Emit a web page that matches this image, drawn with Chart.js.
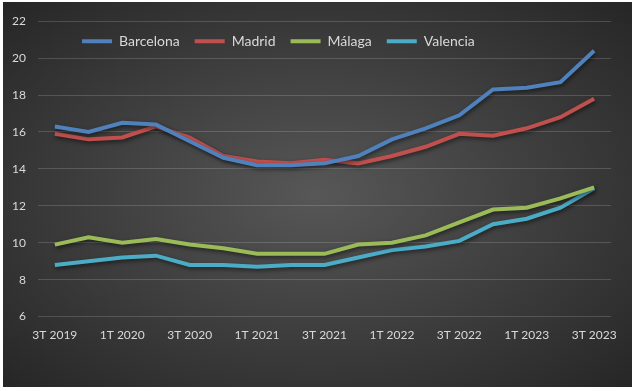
<!DOCTYPE html>
<html>
<head>
<meta charset="utf-8">
<script src="https://cdn.jsdelivr.net/npm/chart.js@4"></script>
<style>
  body { margin: 0; background: #fff; }
  #wrap {
    position: absolute; left: 3px; top: 2px; width: 629px; height: 385px;
    background: radial-gradient(ellipse at 50% 50%, #575757 0%, #3c3c3c 55%, #262626 100%);
  }
</style>
</head>
<body>
<div id="wrap"><canvas id="priceChart" width="629" height="385"></canvas></div>
<script>
// trimestres
var labels = ['3T 2019', '4T 2019', '1T 2020', '2T 2020', '3T 2020', '4T 2020', '1T 2021', '2T 2021',
              '3T 2021', '4T 2021', '1T 2022', '2T 2022', '3T 2022', '4T 2022', '1T 2023', '2T 2023', '3T 2023'];

var barcelona = [16.3, 16.0, 16.5, 16.4, 15.5, 14.6, 14.2, 14.2, 14.3, 14.7, 15.6, 16.2, 16.9, 18.3, 18.4, 18.7, 20.4];
var madrid    = [15.9, 15.6, 15.7, 16.3, 15.7, 14.7, 14.4, 14.3, 14.5, 14.3, 14.7, 15.2, 15.9, 15.8, 16.2, 16.8, 17.8];
var malaga    = [9.9, 10.3, 10.0, 10.2, 9.9, 9.7, 9.4, 9.4, 9.4, 9.9, 10.0, 10.4, 11.1, 11.8, 11.9, 12.4, 13.0];
var valencia  = [8.8, 9.0, 9.2, 9.3, 8.8, 8.8, 8.7, 8.8, 8.8, 9.2, 9.6, 9.8, 10.1, 11.0, 11.3, 11.9, 12.95];

var yTicks = { min: 6, max: 22, step: 2 };

// sombra de las líneas
var lineShadow = {
    id: 'lineShadow',
    beforeDatasetsDraw: function(chart) {
        var c = chart.ctx;
        c.save();
        c.shadowColor = 'rgba(0,0,0,0.55)';
        c.shadowBlur = 4;
        c.shadowOffsetX = 1;
        c.shadowOffsetY = 2;
    },
    afterDatasetsDraw: function(chart) {
        chart.ctx.restore();
    }
};

// leyenda encima del área del gráfico: no ocupa alto y se mueve a la derecha
var legendInside = {
    id: 'legendInside',
    beforeLayout: function(chart) {
        var lg = chart.legend;
        if (lg && !lg._sinAlto) {
            var fitOrig = lg.fit;
            lg.fit = function() {
                fitOrig.call(this);
                this.height = 0;
            };
            lg._sinAlto = true;
        }
    },
    afterLayout: function(chart) {
        var lg = chart.legend;
        if (lg) {
            lg.left += 64;
            lg.right += 64;
            lg.top -= 2;
            lg.height = 50;
            lg.bottom = lg.top + 50;
        }
    }
};

function serie(nombre, datos, color) {
    return {
        label: nombre,
        data: datos,
        borderColor: color,
        backgroundColor: color,
        borderWidth: 4,
        pointRadius: 0,
        tension: 0,
        fill: false
    };
}

var ctx = document.getElementById('priceChart').getContext('2d');
var priceChart = new Chart(ctx, {
    type: 'line',
    data: {
        labels: labels,
        datasets: [
            serie('Barcelona', barcelona, '#4f81bd'),
            serie('Madrid', madrid, '#c0504d'),
            serie('Málaga', malaga, '#9bbb59'),
            serie('Valencia', valencia, '#4bacc6')
        ]
    },
    plugins: [lineShadow, legendInside],
    options: {
        responsive: false,
        animation: false,
        layout: { padding: { left: 0, right: 21, top: 13, bottom: 34 } },
        plugins: {
            legend: {
                position: 'top',
                align: 'start',
                labels: {
                    usePointStyle: true,
                    pointStyle: 'line',
                    pointStyleWidth: 30,
                    padding: 15,
                    color: '#d9d9d9',
                    font: { family: 'Lato', size: 14 }
                }
            },
            tooltip: { enabled: false }
        },
        scales: {
            x: {
                offset: true,
                grid: { display: false, drawTicks: false },
                border: { display: false },
                ticks: {
                    autoSkip: false,
                    maxRotation: 0,
                    padding: 11,
                    color: '#d9d9d9',
                    font: { family: 'Lato', size: 12 },
                    callback: function(value, index) {
                        return index % 2 === 0 ? labels[index] : '';
                    }
                }
            },
            y: {
                min: yTicks.min,
                max: yTicks.max,
                afterFit: function(scale) { scale.width = 35; },
                grid: { color: 'rgba(255,255,255,0.16)', drawTicks: false },
                border: { display: false },
                ticks: {
                    stepSize: yTicks.step,
                    padding: 12,
                    color: '#d9d9d9',
                    font: { family: 'Lato', size: 12 }
                }
            }
        }
    }
});
</script>
</body>
</html>
